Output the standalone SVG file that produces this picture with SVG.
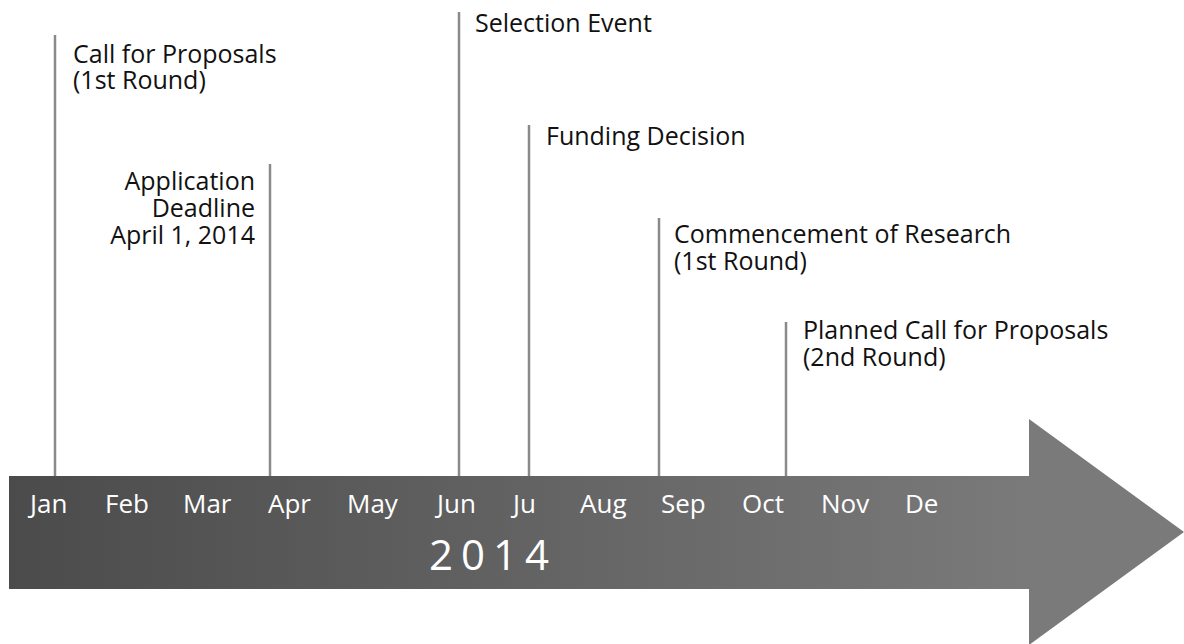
<svg xmlns="http://www.w3.org/2000/svg" width="1184" height="644" viewBox="0 0 1184 644">
  <defs>
    <linearGradient id="bandGrad" gradientUnits="userSpaceOnUse" x1="9" y1="0" x2="1030" y2="0">
      <stop offset="0" stop-color="#4b4b4b"/>
      <stop offset="1" stop-color="#7a7a7a"/>
    </linearGradient>
    <style>
      .lbl { font-family: "Open Sans", "Liberation Sans", sans-serif; font-size: 25px; fill: #111111; }
      .mon { font-family: "Open Sans", "Liberation Sans", sans-serif; font-size: 26px; fill: #ffffff; }
      .year { font-family: "Open Sans", "Liberation Sans", sans-serif; font-size: 42px; fill: #ffffff; letter-spacing: 8px; }
      .tick { stroke: #8a8a8a; stroke-width: 2.5; fill: none; }
    </style>
  </defs>
  <rect width="1184" height="644" fill="#ffffff"/>

  <g id="timeline-arrow">
    <polygon points="9,476 1029,476 1029,419 1184,532 1029,645 1029,589 9,589" fill="url(#bandGrad)"/>
    <g id="months">
      <text class="mon" x="30" y="513">Jan</text>
      <text class="mon" x="105" y="513">Feb</text>
      <text class="mon" x="183" y="513">Mar</text>
      <text class="mon" x="268" y="513">Apr</text>
      <text class="mon" x="347" y="513">May</text>
      <text class="mon" x="437" y="513">Jun</text>
      <text class="mon" x="513" y="513">Ju</text>
      <text class="mon" x="580" y="513">Aug</text>
      <text class="mon" x="661" y="513">Sep</text>
      <text class="mon" x="742" y="513">Oct</text>
      <text class="mon" x="821" y="513">Nov</text>
      <text class="mon" x="905" y="513">De</text>
    </g>
    <text class="year" x="429" y="570">2014</text>
  </g>

  <g id="connectors">
    <line class="tick" x1="55" y1="35" x2="55" y2="476"/>
    <line class="tick" x1="270" y1="164" x2="270" y2="476"/>
    <line class="tick" x1="459" y1="12" x2="459" y2="476"/>
    <line class="tick" x1="529" y1="125" x2="529" y2="476"/>
    <line class="tick" x1="659" y1="218" x2="659" y2="476"/>
    <line class="tick" x1="786" y1="322" x2="786" y2="476"/>
  </g>

  <g id="event-call-proposals">
    <text class="lbl" x="73" y="63">Call for Proposals</text>
    <text class="lbl" x="73" y="89">(1st Round)</text>
  </g>
  <g id="event-application-deadline">
    <text class="lbl" x="255" y="190" text-anchor="end">Application</text>
    <text class="lbl" x="255" y="217" text-anchor="end">Deadline</text>
    <text class="lbl" x="255" y="244" text-anchor="end">April 1, 2014</text>
  </g>
  <g id="event-selection">
    <text class="lbl" x="475" y="32">Selection Event</text>
  </g>
  <g id="event-funding">
    <text class="lbl" x="546" y="145">Funding Decision</text>
  </g>
  <g id="event-commencement">
    <text class="lbl" x="674" y="243">Commencement of Research</text>
    <text class="lbl" x="674" y="270">(1st Round)</text>
  </g>
  <g id="event-planned-call">
    <text class="lbl" x="803" y="339">Planned Call for Proposals</text>
    <text class="lbl" x="803" y="366">(2nd Round)</text>
  </g>
</svg>
